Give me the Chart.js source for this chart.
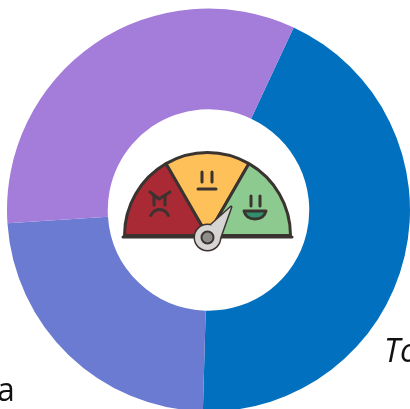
<!DOCTYPE html>
<html>
<head>
<meta charset="utf-8">
<script src="https://cdn.jsdelivr.net/npm/chart.js@4"></script>
<style>
  html, body { margin: 0; padding: 0; background: #fff; overflow: hidden; width: 410px; height: 409px; }
  canvas { position: absolute; left: 0; top: 0; }
  .lbl { position: absolute; font-family: "Open Sans", sans-serif; font-size: 32px; color: #111; line-height: 40px; white-space: nowrap; }
</style>
</head>
<body>
<canvas id="ring" width="420" height="420"></canvas>
<canvas id="gauge" width="420" height="420"></canvas>
<span class="lbl" id="lblTo" style="left:384px;top:330px;font-style:italic"></span>
<span class="lbl" id="lblA" style="left:-3px;top:369px"></span>
<script>
const ringLabels = ["To", "a", ""];
const ringValues = [43.5, 23.5, 33.0];
const ringColors = ["#0170bf", "#6a7bd1", "#a47cd9"];

const gaugeLabels = ["angry", "neutral", "happy"];
const gaugeValues = [60, 60, 60];
const gaugeColors = ["#a92a35", "#fec058", "#8dca90"];

document.getElementById("lblTo").textContent = ringLabels[0];
document.getElementById("lblA").textContent = ringLabels[1];

const ink = "#3b3330";

function line(ctx, pts) {
  ctx.beginPath();
  ctx.moveTo(pts[0], pts[1]);
  for (let i = 2; i < pts.length; i += 2) ctx.lineTo(pts[i], pts[i + 1]);
  ctx.stroke();
}

// faces and needle on top of the half doughnut
const gaugeDecor = {
  id: "gaugeDecor",
  afterDraw(chart) {
    const ctx = chart.ctx;
    ctx.save();
    ctx.strokeStyle = ink;
    ctx.lineCap = "round";
    ctx.lineJoin = "round";
    ctx.lineWidth = 3;

    // baseline
    line(ctx, [123, 237, 292, 237]);

    // angry face
    line(ctx, [150, 192, 159, 199, 170, 192]);
    line(ctx, [154, 196, 154, 205]);
    line(ctx, [165, 196, 165, 205]);
    ctx.beginPath();
    ctx.arc(159.5, 219, 9.5, Math.PI * 1.12, Math.PI * 1.88);
    ctx.stroke();

    // neutral face
    line(ctx, [202, 172, 202, 182]);
    line(ctx, [212, 172, 212, 182]);
    line(ctx, [198, 189, 216, 189]);

    // happy face
    line(ctx, [251, 196, 251, 206]);
    line(ctx, [260, 196, 260, 206]);
    ctx.beginPath();
    ctx.moveTo(244, 211);
    ctx.lineTo(266, 211);
    ctx.quadraticCurveTo(264, 219, 255, 219);
    ctx.quadraticCurveTo(246, 219, 244, 211);
    ctx.closePath();
    ctx.fillStyle = "#2f8f6f";
    ctx.fill();
    ctx.stroke();

    // needle: stroke both shapes, then fill over the shared inner edge
    ctx.fillStyle = "#d6d5d3";
    const needle = new Path2D("M231 207 L211 225 L220 238 Z");
    const hub = new Path2D();
    hub.arc(207.5, 237.5, 12.5, 0, Math.PI * 2);
    ctx.stroke(needle);
    ctx.stroke(hub);
    ctx.fill(needle);
    ctx.fill(hub);
    ctx.fillStyle = "#8f8d8b";
    ctx.lineWidth = 2;
    ctx.beginPath();
    ctx.arc(207.5, 237.5, 6, 0, Math.PI * 2);
    ctx.fill();
    ctx.stroke();
    ctx.restore();
  },
};

new Chart(document.getElementById("ring"), {
  type: "doughnut",
  data: {
    labels: ringLabels,
    datasets: [{ data: ringValues, backgroundColor: ringColors, borderWidth: 0 }],
  },
  options: {
    responsive: false,
    animation: false,
    rotation: 25,
    cutout: "50%",
    layout: { padding: { left: 7, top: 8, right: 10, bottom: 8 } },
    plugins: { legend: { display: false }, tooltip: { enabled: false } },
  },
});

new Chart(document.getElementById("gauge"), {
  type: "doughnut",
  data: {
    labels: gaugeLabels,
    datasets: [{ data: gaugeValues, backgroundColor: gaugeColors, borderColor: ink, borderWidth: 3, borderAlign: "center" }],
  },
  options: {
    responsive: false,
    animation: false,
    rotation: -90,
    circumference: 180,
    cutout: 0,
    layout: { padding: { left: 121, top: 151, right: 126, bottom: 183 } },
    plugins: { legend: { display: false }, tooltip: { enabled: false } },
  },
  plugins: [gaugeDecor],
});
</script>
</body>
</html>
